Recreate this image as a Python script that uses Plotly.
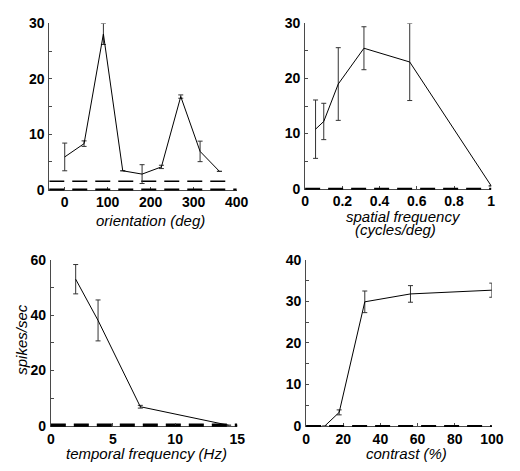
import plotly.graph_objects as go

W, H = 520, 471

# Orientation tuning (deg -> spikes/sec)
ori_deg = [0, 45, 90, 135, 180, 225, 270, 315, 360]
ori_rate = [5.9, 8.3, 28.1, 3.4, 2.8, 4.1, 16.8, 6.9, 3.3]
ori_err = [2.5, 0.5, 1.9, 0.0, 1.7, 0.3, 0.3, 1.85, 0.0]

# Spatial frequency tuning (cycles/deg)
sf_cpd = [0.056, 0.1, 0.178, 0.316, 0.562, 1.0]
sf_rate = [10.8, 12.2, 19.0, 25.5, 23.0, 0.5]
sf_err = [5.3, 3.3, 6.6, 3.9, 7.0, 0.0]

# Temporal frequency tuning (Hz)
tf_hz = [2.0, 3.8, 7.2, 14.3]
tf_rate = [53.0, 38.1, 6.9, 0.2]
tf_err = [5.3, 7.4, 0.5, 0.0]

# Contrast response (%)
con_pct = [10, 17.8, 31.6, 56.2, 100]
con_rate = [0.0, 3.3, 29.9, 31.8, 32.7]
con_err = [0.0, 0.6, 2.6, 2.0, 1.7]

# Spontaneous firing rate per panel and the x extent of its dashed line
spont = [1.5, 0.0, 0.6, 0.0]
spont_end = [374, 1, 15, 100]

x_ranges = [[-36, 400], [0, 1], [0, 15], [0, 100]]
y_ranges = [[0, 30], [0, 30], [0, 60], [0, 40]]
x_tickvals = [[0, 100, 200, 300, 400],
              [0, 0.2, 0.4, 0.6, 0.8, 1],
              [0, 5, 10, 15],
              [0, 20, 40, 60, 80, 100]]
x_ticktext = [["0", "100", "200", "300", "400"],
              ["0", "0.2", "0.4", "0.6", "0.8", "1"],
              ["0", "5", "10", "15"],
              ["0", "20", "40", "60", "80", "100"]]
y_tickvals = [[0, 10, 20, 30], [0, 10, 20, 30], [0, 20, 40, 60], [0, 10, 20, 30, 40]]
y_minor = [5, 5, 10, 5]
x_label_gap = [0, 0, 0, 0]

# panel boxes in pixels: (x0, x1, ytop, ybottom)
boxes = [
    (46.7, 240.0, 16.0, 188.0),
    (310.7, 502.7, 16.0, 187.0),
    (48.3, 240.7, 260.7, 432.5),
    (311.7, 503.3, 260.7, 432.8),
]

series = [
    (ori_deg, ori_rate, ori_err),
    (sf_cpd, sf_rate, sf_err),
    (tf_hz, tf_rate, tf_err),
    (con_pct, con_rate, con_err),
]

AX = "#4a4a4a"
FAMILY = "Liberation Sans, Arial, sans-serif"
TICK_FONT = dict(family=FAMILY, size=14, color="black", weight=700)
TITLE_FONT = dict(family=FAMILY, size=15, color="black", style="italic")

fig = go.Figure()
layout = dict(
    width=W, height=H,
    margin=dict(l=0, r=0, t=0, b=0),
    paper_bgcolor="white", plot_bgcolor="white",
    showlegend=False,
    shapes=[], annotations=[],
)


def bold(labels):
    return ["<b>%s</b>" % s for s in labels]


for i, ((x0, x1, yt, yb), (xs, ys, es)) in enumerate(zip(boxes, series)):
    n = "" if i == 0 else str(i + 1)
    xa, ya = "x" + n, "y" + n
    xmin = x_ranges[i][0]

    # dashed zero baseline drawn over the bottom axis line
    layout["shapes"].append(dict(
        type="line", xref=xa + " domain", yref=ya + " domain",
        x0=0, x1=1, y0=0, y1=0, layer="above",
        line=dict(color="black", width=2, dash="15px,8px")))
    # spontaneous rate
    if spont[i] > 0:
        fig.add_trace(go.Scatter(
            x=[xmin, spont_end[i]], y=[spont[i], spont[i]], mode="lines",
            xaxis=xa, yaxis=ya,
            line=dict(color="black", width=1.5, dash="15px,8px"), hoverinfo="skip"))

    fig.add_trace(go.Scatter(
        x=xs, y=ys, mode="lines", xaxis=xa, yaxis=ya,
        line=dict(color="black", width=1),
        error_y=dict(type="data", array=es, visible=True, color="#333333",
                     thickness=1, width=2.5),
    ))

    common = dict(
        showline=True, linecolor=AX, linewidth=1, mirror=False,
        showgrid=False, zeroline=False,
        ticks="inside", ticklen=3, tickcolor=AX, tickwidth=1,
        tickfont=TICK_FONT,
    )
    layout["xaxis" + n] = dict(
        common, domain=[x0 / W, x1 / W], range=x_ranges[i],
        tickmode="array", tickvals=x_tickvals[i], ticktext=bold(x_ticktext[i]),
        anchor=ya, ticklabelstandoff=x_label_gap[i],
    )
    layout["yaxis" + n] = dict(
        common, domain=[1 - yb / H, 1 - yt / H], range=y_ranges[i],
        tickmode="array", tickvals=y_tickvals[i],
        ticktext=bold([str(v) for v in y_tickvals[i]]),
        minor=dict(dtick=y_minor[i], tick0=0, ticks="inside", ticklen=3, tickcolor=AX),
        anchor=xa, ticklabelstandoff=1,
    )

# axis titles
titles = [
    ("orientation (deg)", 151, 220, 0),
    ("spatial frequency", 412, 216, 0),
    ("(cycles/deg)", 404, 229, 0),
    ("temporal frequency (Hz)", 147, 461, 0),
    ("contrast (%)", 415, 461, 0),
    ("spikes/sec", 18, 343, -90),
]
for txt, px, py, ang in titles:
    layout["annotations"].append(dict(
        text=txt, x=px / W, y=1 - py / H, xref="paper", yref="paper",
        xanchor="center", yanchor="middle", showarrow=False,
        textangle=ang, font=TITLE_FONT))

fig.update_layout(**layout)
fig.write_html("out.html")
